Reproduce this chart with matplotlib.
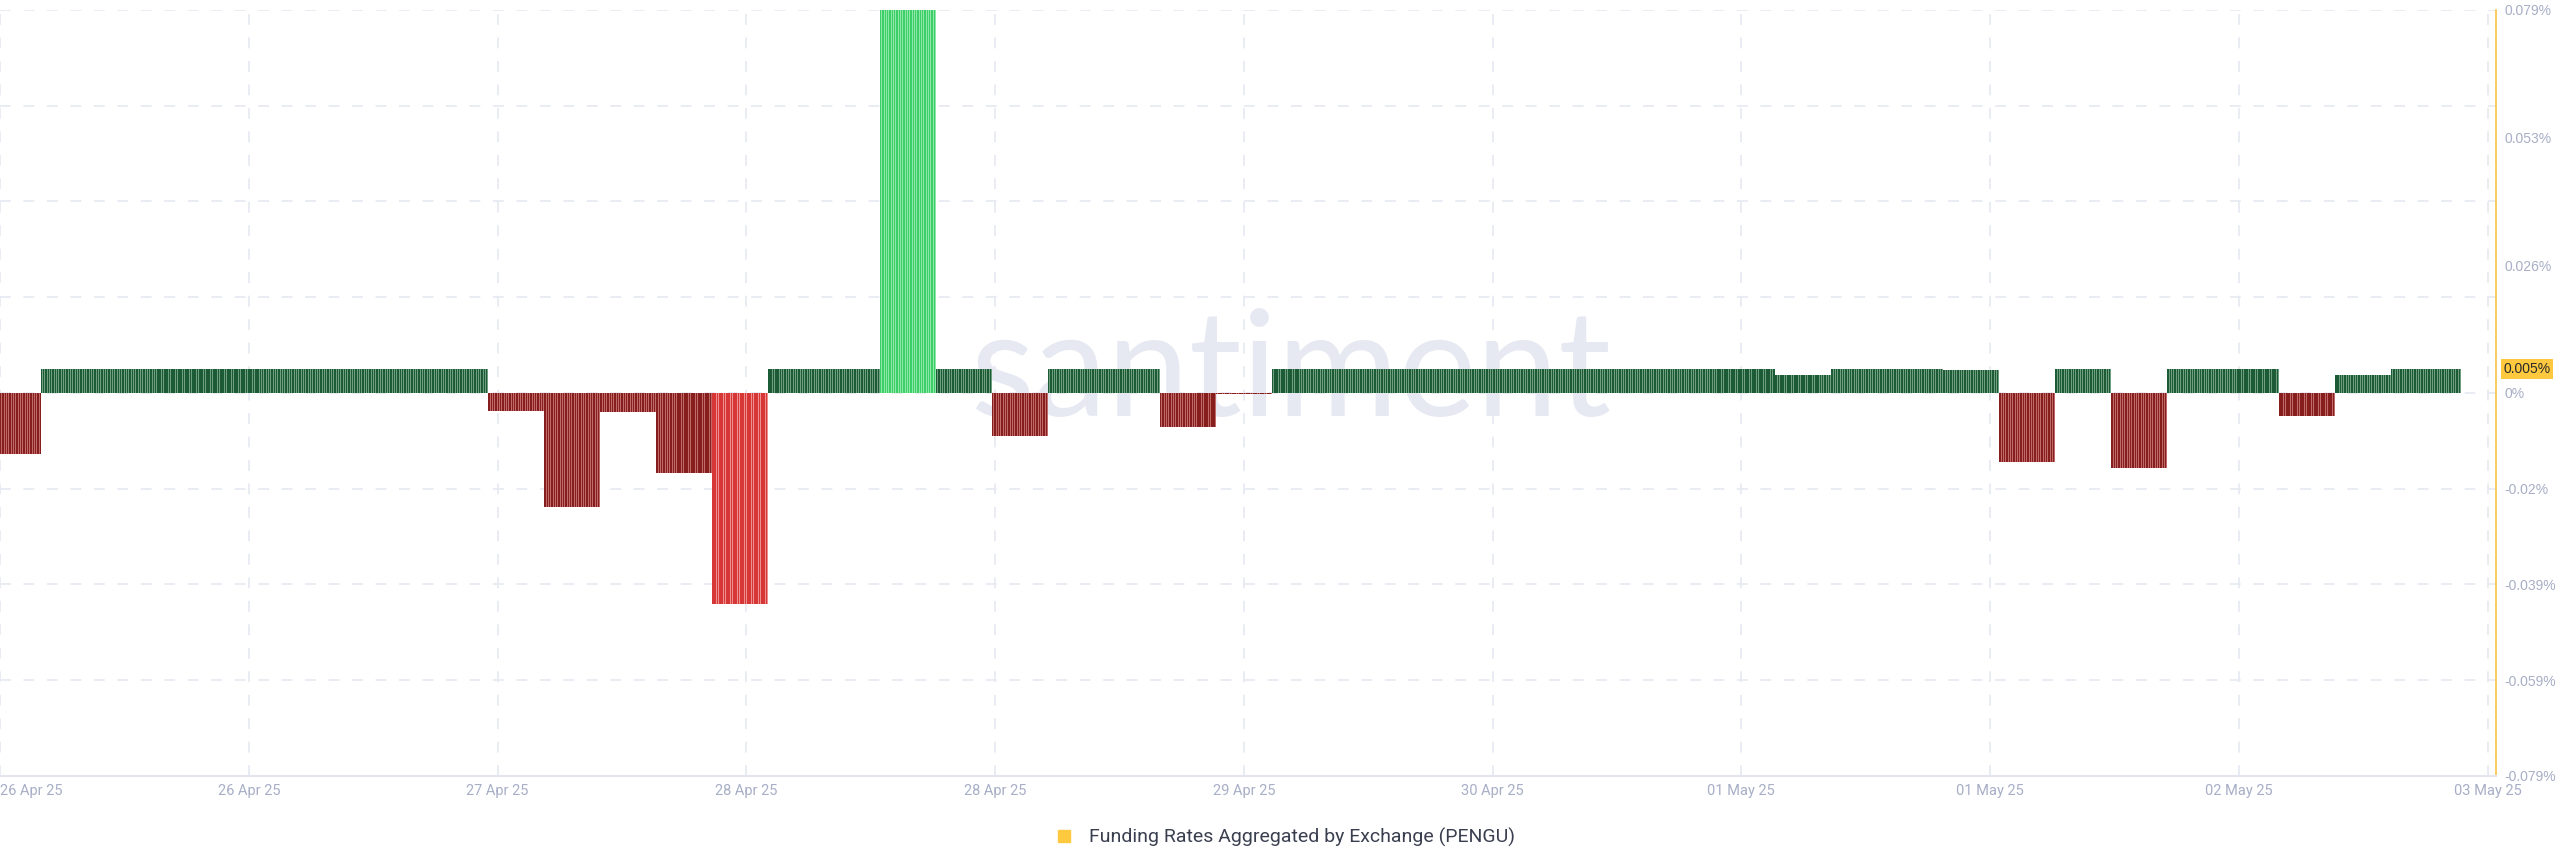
import numpy as np
import matplotlib
matplotlib.use('Agg')
import matplotlib.pyplot as plt
from matplotlib.lines import Line2D

# funding rate blocks (hours from start of window, rate in %)
block_hours = [2.9, 32, 4, 4, 4, 4, 4, 8, 4, 4, 4, 8, 4, 4, 36, 4, 8, 4, 4, 4, 4, 8, 4, 4, 5]
block_rate = [-0.0125, 0.005, -0.0037, -0.0236, -0.004, -0.0165, -0.0436, 0.005, 0.079, 0.005,
              -0.0088, 0.005, -0.0071, -0.0002, 0.005, 0.0037, 0.005, 0.0047, -0.0142, 0.005,
              -0.0155, 0.005, -0.0047, 0.0037, 0.005]
last_rate = 0.005

date_labels = ['26 Apr 25', '26 Apr 25', '27 Apr 25', '28 Apr 25', '28 Apr 25', '29 Apr 25',
               '30 Apr 25', '01 May 25', '01 May 25', '02 May 25', '03 May 25']
ytick_vals = [0.079, 0.079 * 2 / 3, 0.079 / 3, 0, -0.079 / 4, -0.079 / 2, -0.079 * 3 / 4, -0.079]
ytick_text = ['0.079%', '0.053%', '0.026%', '0%', '-0.02%', '-0.039%', '-0.059%', '-0.079%']

x_end = 178.4
stripe = 1 / 6.0


def colours(v):
    if v >= 0.03:
        return '#3ccf68', '#8fe8a8'
    if v >= 0:
        return '#1d5a36', '#6f9f7e'
    if v <= -0.03:
        return '#d63636', '#ee9090'
    return '#861e1e', '#c06a6a'


fig = plt.figure(figsize=(25.6, 8.67), dpi=100)
ax = fig.add_axes([0.0, 0.105, 0.975, 0.8835])

starts = np.concatenate([[0], np.cumsum(block_hours)[:-1]])
for s, w, v in zip(starts, block_hours, block_rate):
    dark, light = colours(v)
    ax.bar(s, v, width=w, align='edge', color=light, zorder=2, linewidth=0)
    xs = np.arange(s, s + w - 1e-6, stripe)
    ax.bar(xs, np.full(len(xs), v), width=stripe * 0.6, align='edge', color=dark,
           zorder=3, linewidth=0)

ax.set_xlim(0, x_end)
ax.set_ylim(-0.079, 0.079)

xt = np.linspace(0, 177.8, len(date_labels))
ax.set_xticks(xt)
ax.set_xticklabels(date_labels)
ax.xaxis.get_ticklabels()[0].set_horizontalalignment('left')
ax.tick_params(axis='x', length=0, pad=6, labelsize=10.5, labelcolor='#a7aec6')
for t in ax.get_xticklabels():
    t.set_fontfamily('Roboto')

ax.yaxis.tick_right()
ax.set_yticks(ytick_vals)
ax.set_yticklabels(ytick_text)
ax.tick_params(axis='y', length=0, pad=6, labelsize=10, labelcolor='#a7aec6')
for t in ax.get_yticklabels():
    t.set_fontfamily('Liberation Sans')

# dashed grid
for gx in xt:
    ax.axvline(gx, color='#e8eaf2', lw=1.3, ls=(0, (6, 7)), zorder=0)
for gy in np.linspace(-0.079, 0.079, 9):
    ax.axhline(gy, color='#e8eaf2', lw=1.3, ls=(0, (6, 7)), zorder=0)

for sp in ['top', 'left']:
    ax.spines[sp].set_visible(False)
ax.spines['right'].set_color('#f6c445')
ax.spines['right'].set_linewidth(1.2)
ax.spines['bottom'].set_color('#e3e6ee')
ax.spines['bottom'].set_linewidth(1.5)

# watermark
ax.text(0.517, 0.525, 'santiment', transform=ax.transAxes, ha='center', va='center',
        fontsize=106, family='Lato', color='#e6e9f2', zorder=1)

# current value tag
ax.text(1.003, last_rate, '0.005%', transform=ax.get_yaxis_transform(), ha='left', va='center',
        fontsize=10, family='Liberation Sans', color='#2a2a2a', zorder=5, clip_on=False,
        bbox=dict(boxstyle='square,pad=0.2', fc='#ffc93f', ec='none'))

handle = Line2D([], [], marker='s', ls='none', color='#ffc93f', markersize=9)
fig.legend([handle], ['Funding Rates Aggregated by Exchange (PENGU)'], loc='center',
           bbox_to_anchor=(0.5, 0.034), frameon=False, handletextpad=0.3,
           prop={'family': 'Roboto', 'size': 14}, labelcolor='#3a3f50')

fig.savefig('out.png', dpi=100)
